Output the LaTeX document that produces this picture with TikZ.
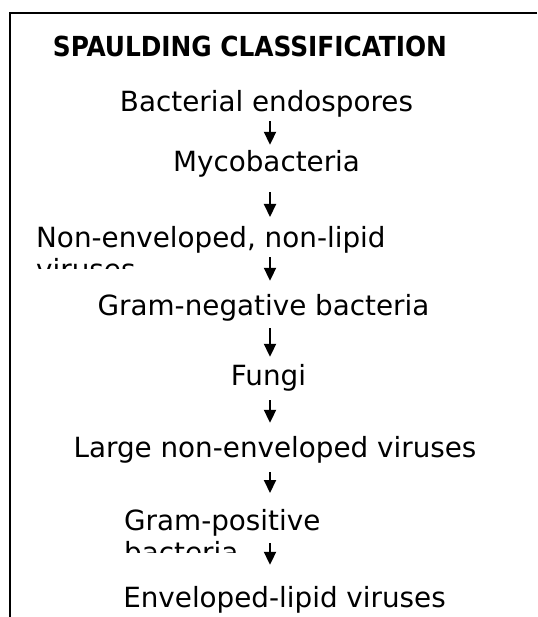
\documentclass[tikz,border=0pt]{standalone}
\usepackage{fontspec}
\setmainfont{DejaVu Sans}
\newfontfamily\condfont{DejaVu Sans Condensed}
\usetikzlibrary{arrows.meta,calc}
\tikzset{
  item/.style={inner sep=0pt,text height=21pt,text depth=6pt,anchor=base,
    font=\fontsize{27.8}{32}\selectfont},
  wrapped/.style={inner sep=0pt,anchor=base west,align=left,
    font=\fontsize{27.8}{32}\selectfont},
  title/.style={inner sep=0pt,anchor=base,font=\condfont\fontsize{27.6}{32}\selectfont\bfseries},
  arrow/.style={-{Triangle[length=13pt,width=12pt]},line width=2pt},
  frame/.style={line width=2pt}
}

\begin{document}
\begin{tikzpicture}[x=1pt,y=-1pt]
\useasboundingbox (0,0) rectangle (537,617);
\draw[frame] (537,13.5) -| (10,617);
\node[title] (head) at (250,57) {SPAULDING CLASSIFICATION};
\node[item] (bact) at (266.5,112) {Bacterial endospores};
\node[item] (myco) at (266.5,172) {Mycobacteria};
\begin{scope}
  \clip (0,0) rectangle (537,268);
  \node[wrapped] (nonenv) at (36,279) {Non-enveloped, non-lipid\\viruses};
\end{scope}
\node[item] (gneg) at (263.5,315) {Gram-negative bacteria};
\node[item] (fungi) at (268.5,385) {Fungi};
\node[item] (large) at (275,457) {Large non-enveloped viruses};
\begin{scope}
  \clip (0,0) rectangle (537,552);
  \node[wrapped] (gpos) at (124,562) {Gram-positive\\bacteria};
\end{scope}
\node[item] (envel) at (284.5,607) {Enveloped-lipid viruses};
% arrows down the list
\coordinate (ax) at (270,0);
\draw[arrow] ($(bact.south -| ax)+(0,3)$) -- ($(myco.north -| ax)+(0,-6)$);
\draw[arrow] ($(myco.south -| ax)+(0,14)$) -- ($(nonenv.base -| ax)+(0,-62)$);
\draw[arrow] ($(nonenv.base -| ax)+(0,-22)$) -- ($(gneg.north -| ax)+(0,-13)$);
\draw[arrow] ($(gneg.south -| ax)+(0,7)$) -- ($(fungi.north -| ax)+(0,-7)$);
\draw[arrow] ($(fungi.south -| ax)+(0,9)$) -- ($(large.north -| ax)+(0,-13)$);
\draw[arrow] ($(large.south -| ax)+(0,9)$) -- ($(gpos.base -| ax)+(0,-69)$);
\draw[arrow] ($(gpos.base -| ax)+(0,-19)$) -- ($(envel.north -| ax)+(0,-21)$);
\end{tikzpicture}
\end{document}
